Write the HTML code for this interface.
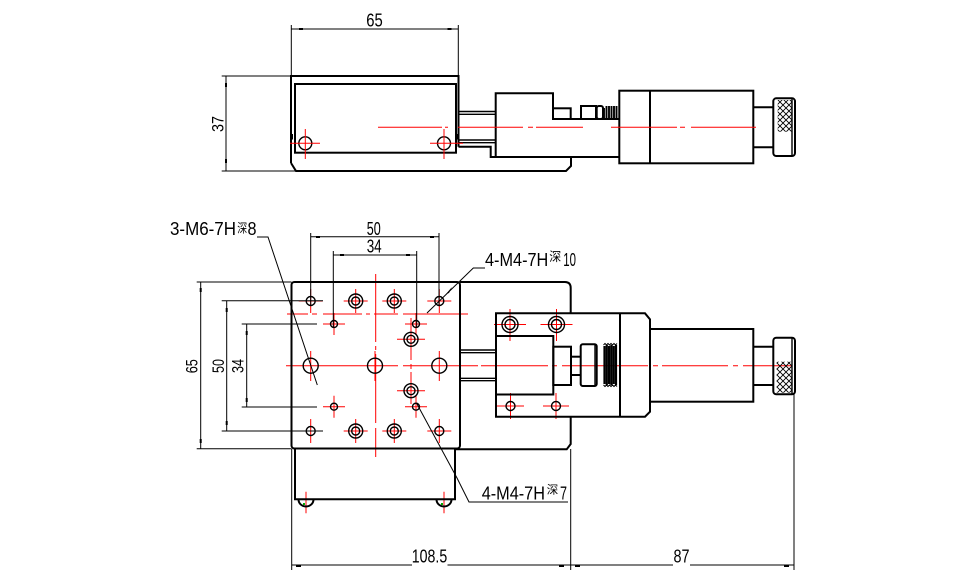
<!DOCTYPE html>
<html><head><meta charset="utf-8">
<style>
html,body{margin:0;padding:0;background:#fff;}
svg{display:block;}
text{font-family:"Liberation Sans","Noto Sans CJK SC",sans-serif;fill:#000;}
.cjk{font-family:"Noto Sans CJK SC","WenQuanYi Zen Hei",sans-serif;}
</style></head><body>
<svg width="966" height="585" viewBox="0 0 966 585" xmlns="http://www.w3.org/2000/svg">
<defs>
<pattern id="kn" patternUnits="userSpaceOnUse" width="6" height="6">
<path d="M0,0L6,6M6,0L0,6" stroke="#000" stroke-width="0.9"/>
</pattern>
</defs>
<rect width="966" height="585" fill="#fff"/>

<!-- ================= TOP VIEW ================= -->
<g fill="none" stroke="#000" stroke-width="2">
  <path d="M291,163 L291,76 L458.5,76 L458.5,146.7"/>
  <path d="M291,163 L296,171 L566,171 L571,166 L571,157"/>
  <rect x="295" y="84" width="161" height="68.7"/>
  <path d="M458.5,146.7 L490.7,146.7 L490.7,157 L619.3,157"/>
  <path d="M495.7,157 L495.7,93.3 L553,93.3 L553,119 L619.3,119"/>
  <rect x="553" y="108.3" width="17.7" height="10.7"/>
  <rect x="581" y="106" width="15" height="13"/>
  <rect x="596.7" y="106" width="6.3" height="13" rx="2"/>
  <rect x="619.3" y="90.7" width="134" height="72.6"/>
  <line x1="650" y1="90.7" x2="650" y2="163.3"/>
  <line x1="753.3" y1="107.3" x2="773.3" y2="107.3"/>
  <line x1="753.3" y1="147.3" x2="773.3" y2="147.3"/>
  <rect x="773.3" y="98.3" width="21.7" height="57.7" rx="3"/>
</g>
<g fill="none" stroke="#000" stroke-width="1.4">
  <line x1="458.5" y1="111.5" x2="495.7" y2="111.5"/>
  <line x1="458.5" y1="114.3" x2="495.7" y2="114.3"/>
  <line x1="458.5" y1="140" x2="495.7" y2="140"/>
  <line x1="458.5" y1="142.7" x2="495.7" y2="142.7"/>
  <line x1="792" y1="99" x2="792" y2="155"/>
  <circle cx="305.3" cy="143.3" r="6.5"/>
  <circle cx="444" cy="143.3" r="6.5"/>
</g>
<rect x="777.7" y="100" width="14" height="31.7" fill="url(#kn)"/>
<rect x="290" y="134" width="3" height="5.5" fill="#000"/>
<rect x="456" y="134" width="3" height="5.5" fill="#000"/>
<g stroke="#000" stroke-width="1.9">
  <path d="M604,108V119M606.5,106V119M609,106V119M611.5,106V119M614,106V119M616.5,106V119"/>
</g>
<!-- red top view -->
<g stroke="#f00" stroke-width="1" fill="none">
  <line x1="290" y1="143.3" x2="320" y2="143.3"/>
  <line x1="305.3" y1="129" x2="305.3" y2="159"/>
  <line x1="430" y1="143.3" x2="463" y2="143.3"/>
  <line x1="444" y1="129" x2="444" y2="159"/>
  <path d="M378,127.3H442M445,127.3H448M458,127.3H523M528,127.3H533M536,127.3H583M611,127.3H677M680,127.3H685M691,127.3H756"/>
</g>
<!-- top view dims -->
<g stroke="#000" stroke-width="1" fill="none">
  <line x1="291.3" y1="25" x2="291.3" y2="76"/>
  <line x1="458.3" y1="25" x2="458.3" y2="76"/>
  <line x1="291.3" y1="29" x2="458.3" y2="29"/>
  <line x1="221.7" y1="76" x2="291" y2="76"/>
  <line x1="221.7" y1="171" x2="296" y2="171"/>
  <line x1="226" y1="76" x2="226" y2="171"/>
</g>
<g fill="#000">
  <rect x="299" y="28" width="4" height="2"/>
  <rect x="447.5" y="28" width="4" height="2"/>
  <rect x="225" y="83" width="2" height="4"/>
  <rect x="225" y="159" width="2" height="4"/>
</g>
<text x="374.5" y="26.3" font-size="18" text-anchor="middle" textLength="16.5" lengthAdjust="spacingAndGlyphs">65</text>
<text transform="translate(223.3,124) rotate(-90)" font-size="17" text-anchor="middle" textLength="16" lengthAdjust="spacingAndGlyphs">37</text>

<!-- ================= BOTTOM VIEW ================= -->
<g stroke="#f00" stroke-width="1" fill="none">
  <path d="M298.7,301H322.7M310.7,289V313"/>
  <path d="M343.7,301H367.7M355.7,289V313"/>
  <path d="M382.3,301H406.3M394.3,289V313"/>
  <path d="M427.3,301H451.3M439.3,289V313"/>
  <path d="M323,324H345M334,313V335"/>
  <path d="M405,324H427M416,313V335"/>
  <path d="M397,339.3H425"/>
  <path d="M397,390.7H425"/>
  <path d="M310.7,351V381M375,351V381M439.3,351V381"/>
  <path d="M323,406.7H345M334,395.7V417.7"/>
  <path d="M405,406.7H427M416,395.7V417.7"/>
  <path d="M298.7,431H322.7M310.7,419V443"/>
  <path d="M343.7,431H367.7M355.7,419V443"/>
  <path d="M382.3,431H406.3M394.3,419V443"/>
  <path d="M427.3,431H451.3M439.3,419V443"/>
  <path d="M287,314H308M312,314H317M323,314H362M366,314H370M374,314H398M403,314H468"/>
  <path d="M375.7,274V342M375.7,346V350M375.7,354V423M375.7,428V457"/>
  <path d="M411,318V360M411,364V369M411,372V404"/>
  <path d="M286,365.7H398M403,365.7H478M481,365.7H548M552,365.7H557M562,365.7H648M653,365.7H658M662,365.7H728M733,365.7H738M743,365.7H792"/>
  <path d="M494,324.5H526M510,309V341"/>
  <path d="M540.5,324.5H572.5M556.5,309V341"/>
  <path d="M497,406H524M510.5,393V419"/>
  <path d="M543,406H569M556,393V419"/>
  <path d="M306,491.7V513.3M444,491.7V513.3"/>
</g>

<g fill="none" stroke="#000" stroke-width="2">
  <rect x="291.5" y="282" width="168.5" height="166.5" rx="3"/>
  <path d="M460,282 L565,282 Q570.7,282 570.7,288 L570.7,313.3"/>
  <path d="M570.7,416.7 L570.7,444 L566.7,449.3 L455,449.3"/>
  <path d="M295,449 L295,499.3 L455,499.3 L455,449"/>
  <path d="M298.5,499.5 A7.5,7 0 0 0 313.5,499.5"/>
  <path d="M436.5,499.5 A7.5,7 0 0 0 451.5,499.5"/>
  <path d="M620,313.3 L496,313.3 L496,416.7 L620,416.7"/>
  <path d="M620,313.3 L645,313.3 L650,319.3 L650,411.7 L645,416.7 L620,416.7"/>
  <line x1="620" y1="313.3" x2="620" y2="416.7"/>
  <path d="M496,336 L553.3,336 L553.3,394.5 L496,394.5"/>
  <rect x="553.3" y="346.7" width="17.7" height="38.3"/>
  <line x1="571" y1="356.7" x2="580.7" y2="356.7"/>
  <line x1="571" y1="375" x2="580.7" y2="375"/>
  <rect x="580.7" y="344.3" width="16" height="41.7" rx="2"/>
  <rect x="650" y="329" width="103.3" height="72.7"/>
  <line x1="753.3" y1="346.7" x2="773.3" y2="346.7"/>
  <line x1="753.3" y1="385" x2="773.3" y2="385"/>
  <rect x="773.3" y="337.7" width="21.7" height="56.6" rx="3"/>
</g>
<g fill="none" stroke="#000" stroke-width="1.4">
  <line x1="460" y1="350" x2="495.7" y2="350"/>
  <line x1="460" y1="352.7" x2="495.7" y2="352.7"/>
  <line x1="460" y1="378.3" x2="495.7" y2="378.3"/>
  <line x1="460" y1="380.7" x2="495.7" y2="380.7"/>
  <line x1="595" y1="344.5" x2="595" y2="386"/>
  <line x1="792" y1="338.5" x2="792" y2="393.5"/>
  <circle cx="310.7" cy="301" r="4.5"/>
  <circle cx="439.3" cy="301" r="4.5"/>
  <circle cx="310.7" cy="431" r="4.5"/>
  <circle cx="439.3" cy="431" r="4.5"/>
  <circle cx="355.7" cy="301" r="7"/><circle cx="355.7" cy="301" r="4"/>
  <circle cx="394.3" cy="301" r="7"/><circle cx="394.3" cy="301" r="4"/>
  <circle cx="355.7" cy="431" r="7"/><circle cx="355.7" cy="431" r="4"/>
  <circle cx="394.3" cy="431" r="7"/><circle cx="394.3" cy="431" r="4"/>
  <circle cx="411" cy="339.3" r="7"/><circle cx="411" cy="339.3" r="4"/>
  <circle cx="411" cy="390.7" r="7"/><circle cx="411" cy="390.7" r="4"/>
  <circle cx="334" cy="324" r="3.5"/>
  <circle cx="416" cy="324" r="3.5"/>
  <circle cx="334" cy="406.7" r="3.5"/>
  <circle cx="416" cy="406.7" r="3.5"/>
  <circle cx="310.7" cy="365.7" r="7.5"/>
  <circle cx="375" cy="365.7" r="7.5"/>
  <circle cx="439.3" cy="365.7" r="7.5"/>
  <circle cx="510" cy="324.5" r="8"/><circle cx="510" cy="324.5" r="5"/>
  <circle cx="556.5" cy="324.5" r="8"/><circle cx="556.5" cy="324.5" r="5"/>
  <circle cx="510.5" cy="406" r="4.5"/>
  <circle cx="556" cy="406" r="4.5"/>
</g>
<rect x="776.7" y="361.7" width="15" height="31" fill="url(#kn)"/>
<g stroke="#000" stroke-width="2.2">
  <path d="M604.5,346V384M606.8,345V385M609.1,346V384M611.4,345V385M613.7,346V384M616,345V385"/>
</g>
<path d="M603.5,345 L605,343.5 L606.5,345 L608,343.5 L609.5,345 L611,343.5 L612.5,345 L614,343.5 L615.5,345 L617,343.5 M603.5,385 L605,386.5 L606.5,385 L608,386.5 L609.5,385 L611,386.5 L612.5,385 L614,386.5 L615.5,385 L617,386.5" fill="none" stroke="#000" stroke-width="1"/>
<g fill="#0a0">
  <rect x="303" y="503" width="2" height="2"/>
  <rect x="441" y="503" width="2" height="2"/>
</g>

<!-- bottom view dims -->
<g stroke="#000" stroke-width="1" fill="none">
  <line x1="310.7" y1="233" x2="310.7" y2="306"/>
  <line x1="439" y1="233" x2="439" y2="306"/>
  <line x1="310.7" y1="236.7" x2="439" y2="236.7"/>
  <line x1="333.3" y1="251" x2="333.3" y2="328"/>
  <line x1="416.7" y1="251" x2="416.7" y2="328"/>
  <line x1="333.3" y1="255" x2="416.7" y2="255"/>
  <line x1="196.7" y1="282" x2="291.5" y2="282"/>
  <line x1="196.7" y1="448.7" x2="291.5" y2="448.7"/>
  <line x1="200.7" y1="282" x2="200.7" y2="448.7"/>
  <line x1="221.7" y1="300.7" x2="323" y2="300.7"/>
  <line x1="221.7" y1="431" x2="323" y2="431"/>
  <line x1="226.7" y1="300.7" x2="226.7" y2="431"/>
  <line x1="241.7" y1="324" x2="317" y2="324"/>
  <line x1="241.7" y1="407" x2="317" y2="407"/>
  <line x1="246.7" y1="324" x2="246.7" y2="407"/>
  <line x1="291.7" y1="449" x2="291.7" y2="570"/>
  <line x1="570.7" y1="449" x2="570.7" y2="570"/>
  <line x1="794" y1="394" x2="794" y2="570"/>
  <path d="M291.7,565H412M447.5,565H673M690,565H794"/>
  <polyline points="257,237 268,237 317.3,385"/>
  <polyline points="485,268 473.3,268 427,313"/>
  <polyline points="417,404 457,478 469,502 568,502"/>
</g>
<g fill="#000">
  <rect x="316" y="236" width="4" height="2"/>
  <rect x="430" y="236" width="4" height="2"/>
  <rect x="340" y="254" width="4" height="2"/>
  <rect x="406" y="254" width="4" height="2"/>
  <rect x="199.7" y="288" width="2" height="4"/>
  <rect x="199.7" y="439" width="2" height="4"/>
  <rect x="225.7" y="308" width="2" height="4"/>
  <rect x="225.7" y="421" width="2" height="4"/>
  <rect x="245.7" y="331" width="2" height="4"/>
  <rect x="245.7" y="398" width="2" height="4"/>
  <rect x="296" y="565" width="5" height="2"/>
  <rect x="559" y="565" width="5" height="2"/>
  <rect x="575" y="565" width="5" height="2"/>
  <rect x="784" y="565" width="5" height="2"/>
  <path d="M446,294 L452,287 L449,293 Z"/>
</g>

<text x="373.7" y="235" font-size="18" text-anchor="middle" textLength="14" lengthAdjust="spacingAndGlyphs">50</text>
<text x="374.2" y="252.7" font-size="18" text-anchor="middle" textLength="15" lengthAdjust="spacingAndGlyphs">34</text>
<text transform="translate(197.3,366.3) rotate(-90)" font-size="16.5" text-anchor="middle" textLength="14" lengthAdjust="spacingAndGlyphs">65</text>
<text transform="translate(224,366) rotate(-90)" font-size="17" text-anchor="middle" textLength="14" lengthAdjust="spacingAndGlyphs">50</text>
<text transform="translate(243.3,366) rotate(-90)" font-size="16.5" text-anchor="middle" textLength="14" lengthAdjust="spacingAndGlyphs">34</text>

<text x="170" y="235" font-size="18" textLength="66" lengthAdjust="spacingAndGlyphs">3-M6-7H</text>
<text class="cjk" x="237.3" y="232.3" font-size="12.5" textLength="10" lengthAdjust="spacingAndGlyphs">深</text>
<text x="247.5" y="235" font-size="18" textLength="9" lengthAdjust="spacingAndGlyphs">8</text>

<text x="485" y="266" font-size="18" textLength="63.3" lengthAdjust="spacingAndGlyphs">4-M4-7H</text>
<text class="cjk" x="549.3" y="261" font-size="12.5" textLength="12" lengthAdjust="spacingAndGlyphs">深</text>
<text x="563.3" y="266" font-size="18" textLength="12.7" lengthAdjust="spacingAndGlyphs">10</text>

<text x="481.7" y="499.3" font-size="18" textLength="63.3" lengthAdjust="spacingAndGlyphs">4-M4-7H</text>
<text class="cjk" x="546.7" y="493.5" font-size="11.5" textLength="11.5" lengthAdjust="spacingAndGlyphs">深</text>
<text x="560" y="499.3" font-size="18" textLength="7" lengthAdjust="spacingAndGlyphs">7</text>

<text x="429.5" y="562.5" font-size="18" text-anchor="middle" textLength="35.4" lengthAdjust="spacingAndGlyphs">108.5</text>
<text x="681.5" y="562.5" font-size="18" text-anchor="middle" textLength="16" lengthAdjust="spacingAndGlyphs">87</text>
</svg>
</body></html>
